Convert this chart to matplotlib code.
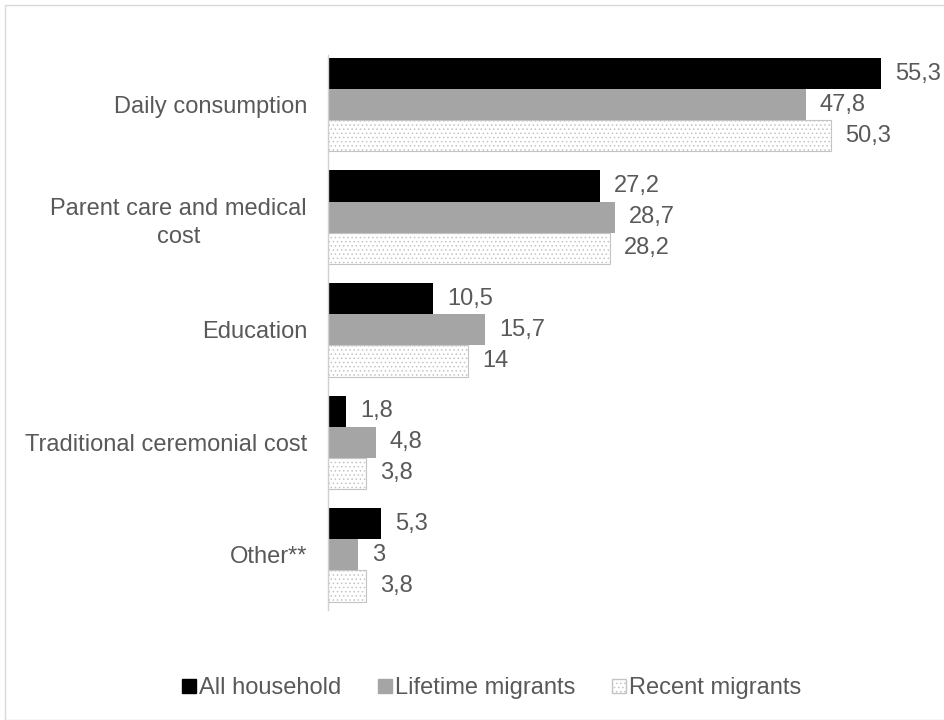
import matplotlib
matplotlib.use("Agg")
import matplotlib.pyplot as plt
from matplotlib.patches import Patch, Rectangle
import numpy as np

plt.rcParams['font.family'] = ['Liberation Sans', 'DejaVu Sans']
plt.rcParams['hatch.linewidth'] = 0.6

categories = ["Daily consumption", "Parent care and medical\ncost", "Education",
              "Traditional ceremonial cost", "Other**"]
series_names = ["All household", "Lifetime migrants", "Recent migrants"]
all_household = [55.3, 27.2, 10.5, 1.8, 5.3]
lifetime_migrants = [47.8, 28.7, 15.7, 4.8, 3.0]
recent_migrants = [50.3, 28.2, 14.0, 3.8, 3.8]

text_color = "#595959"
fs = 17

fig = plt.figure(figsize=(9.45, 7.2), dpi=100)
fig.patches.append(Rectangle((0.005, 0.0), 0.995, 0.993, transform=fig.transFigure,
                             fill=False, edgecolor="#d9d9d9", linewidth=1.0))
ax = fig.add_axes([0.347, 0.153, 0.635, 0.771])

y = np.arange(len(categories))
h = 0.277
styles = [
    dict(color="#000000"),
    dict(color="#a5a5a5"),
    dict(facecolor="white", edgecolor="#c4c4c4", hatch="....", linewidth=0.8),
]
data = [all_household, lifetime_migrants, recent_migrants]
for i, (vals, st) in enumerate(zip(data, styles)):
    pos = y + (i - 1) * h
    ax.barh(pos, vals, height=h, **st)
    for p, v in zip(pos, vals):
        lab = f"{v:g}".replace(".", ",")
        ax.annotate(lab, (v, p), xytext=(10, 0), textcoords="offset points",
                    va="center", ha="left", fontsize=fs, color=text_color)

ax.set_xlim(0, 60)
ax.set_ylim(4.489, -0.444)
ax.set_yticks(y)
ax.set_yticklabels(categories, fontsize=fs, color=text_color, ha="right",
                   multialignment="center", linespacing=1.35)
ax.tick_params(axis="y", length=0, pad=15)
ax.set_xticks([])
for s in ["top", "right", "bottom"]:
    ax.spines[s].set_visible(False)
ax.spines["left"].set_color("#d0d0d0")
ax.spines["left"].set_linewidth(1.0)

handles = [Patch(facecolor="#000000", edgecolor="#000000"),
           Patch(facecolor="#a5a5a5", edgecolor="#a5a5a5"),
           Patch(facecolor="white", edgecolor="#c4c4c4", hatch="....")]
leg = fig.legend(handles, series_names, loc="center", bbox_to_anchor=(0.52, 0.044),
                 ncol=3, frameon=False, fontsize=fs, handlelength=0.6, handleheight=0.6,
                 handletextpad=0.12, columnspacing=1.55)
for t in leg.get_texts():
    t.set_color(text_color)

fig.savefig("out.png", dpi=100, facecolor="white")
